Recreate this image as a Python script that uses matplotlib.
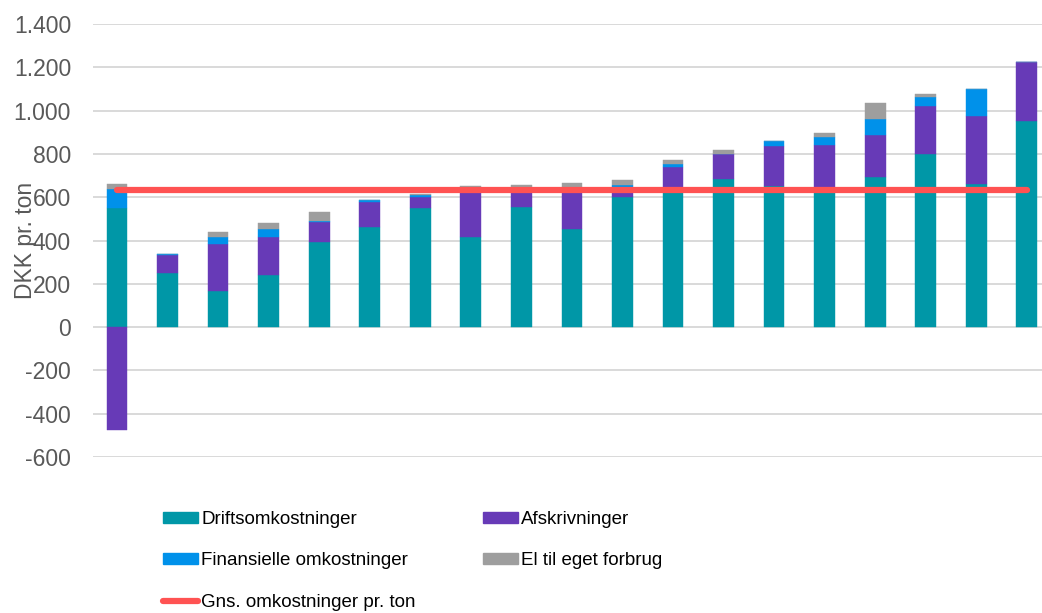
import matplotlib
matplotlib.use("Agg")
import matplotlib.pyplot as plt
import numpy as np
from matplotlib.ticker import FuncFormatter
from matplotlib.patches import Patch
from matplotlib.lines import Line2D

plt.rcParams['font.family'] = ['Liberation Sans', 'DejaVu Sans']

# Data (DKK pr. ton), one value per plant
drift = [552, 249, 166, 240, 395, 461, 548, 415, 555, 455, 600, 625, 683, 654, 630, 694, 801, 661, 951]
afskr = [-474, 83, 218, 175, 89, 119, 55, 225, 88, 188, 49, 115, 117, 184, 213, 195, 222, 316, 273]
finans = [88, 6, 30, 37, 8, 7, 7, 0, 2, 3, 8, 15, 0, 23, 37, 72, 38, 124, 0]
el = [20, 0, 26, 29, 40, 0, 5, 12, 10, 19, 21, 17, 18, 0, 17, 74, 17, 0, 0]
gns = 632
yticks = [-600, -400, -200, 0, 200, 400, 600, 800, 1000, 1200, 1400]

labels = ["Driftsomkostninger", "Afskrivninger", "Finansielle omkostninger",
          "El til eget forbrug", "Gns. omkostninger pr. ton"]
colors = ["#0097A7", "#673AB7", "#0091EA", "#9E9E9E"]
red = "#FF5252"

W, H = 1042, 613
fig = plt.figure(figsize=(W / 100, H / 100), dpi=100)
ax = fig.add_axes([93 / W, (613 - 457) / H, (1042 - 93) / W, (457 - 24) / H])

x = np.arange(len(drift))
series = [drift, afskr, finans, el]
pos_bottom = np.zeros(len(x))
neg_bottom = np.zeros(len(x))
bw = 0.41
for vals, c in zip(series, colors):
    v = np.array(vals, dtype=float)
    bottom = np.where(v >= 0, pos_bottom, neg_bottom)
    ax.bar(x, v, bw, bottom=bottom, color=c, edgecolor=c, linewidth=0.3, zorder=2)
    pos_bottom += np.where(v >= 0, v, 0)
    neg_bottom += np.where(v < 0, v, 0)

ax.plot([x[0], x[-1]], [gns, gns], color=red, lw=4.5, solid_capstyle='round', zorder=3)

ax.set_ylim(-600, 1400)
ax.set_xlim(-0.475, 18.30)
ax.set_yticks(yticks)
ax.yaxis.set_major_formatter(FuncFormatter(lambda v, p: f"{int(v):,}".replace(",", ".")))
ax.set_xticks([])
ax.tick_params(axis='y', length=0, pad=15.8, labelsize=16.5, labelcolor="#595959")
ax.grid(axis='y', color="#D9D9D9", lw=1.4, zorder=0)
ax.set_axisbelow(True)
for s in ax.spines.values():
    s.set_visible(False)
ax.set_ylabel("DKK pr. ton", fontsize=16.5, color="#595959")
ax.yaxis.set_label_coords(-0.059, 0.5)

handles = [Patch(color=colors[0]), Patch(color=colors[2]),
           Line2D([0], [0], color=red, lw=4.5, solid_capstyle='round'),
           Patch(color=colors[1]), Patch(color=colors[3])]
hl = [labels[0], labels[2], labels[4], labels[1], labels[3]]
fig.legend(handles, hl, ncol=2, loc='upper left', bbox_to_anchor=(163 / W, (613 - 511) / H),
           frameon=False, fontsize=13.5, handlelength=1.87, handleheight=0.55,
           handletextpad=0.16, columnspacing=3.57, labelspacing=1.3, borderpad=0,
           borderaxespad=0)

fig.savefig("out.png", dpi=100)
